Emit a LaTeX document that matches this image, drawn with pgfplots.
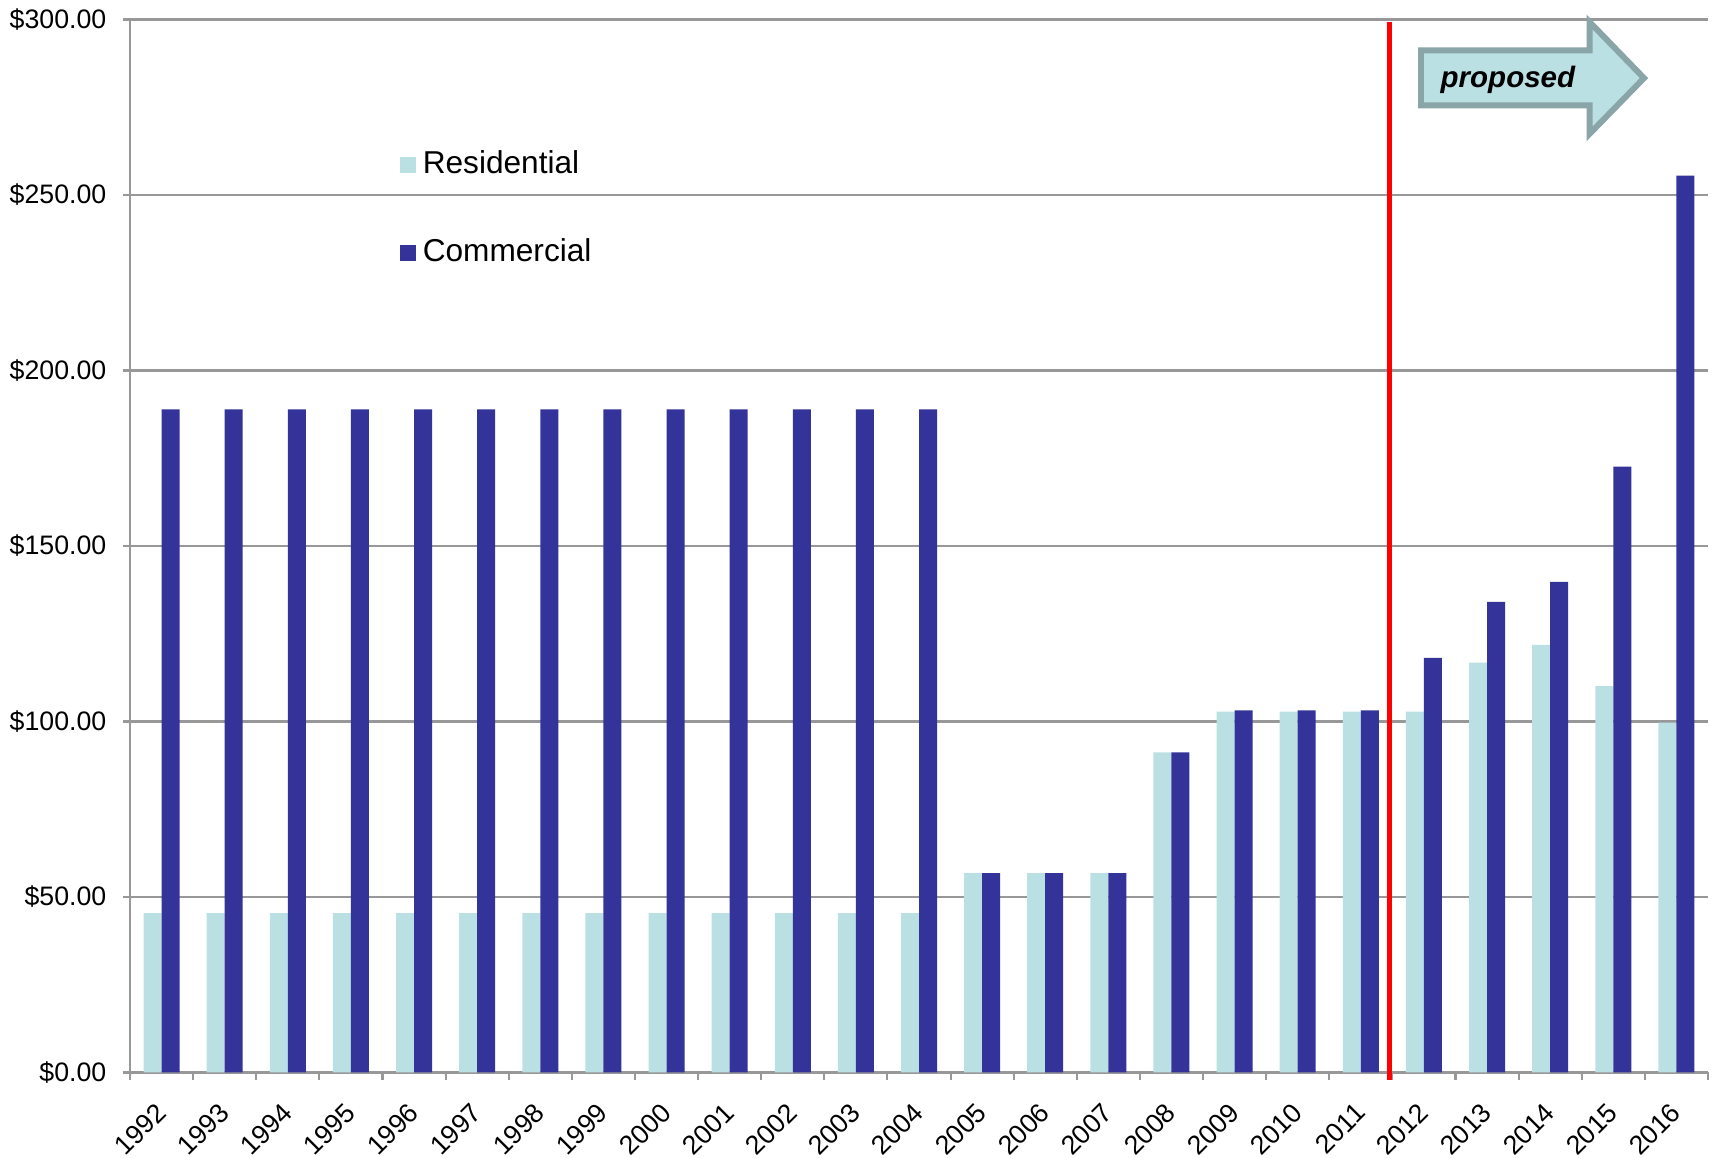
\documentclass[border=0pt]{standalone}
\usepackage{pgfplots}
\usepackage{pgfplotstable}
\pgfplotsset{compat=1.18}
\usepackage{fontspec}
\setmainfont{Liberation Sans}

\definecolor{resfill}{HTML}{BBE0E3}
\definecolor{comfill}{HTML}{333399}
\definecolor{axisgray}{HTML}{989898}
\definecolor{arrowfill}{HTML}{BBE0E3}
\definecolor{arrowline}{HTML}{8AA5A8}

% Annual charge per account; index 0 = 1992 ... 24 = 2016
\pgfplotstableread{
idx res com
0  45.4 188.9
1  45.4 188.9
2  45.4 188.9
3  45.4 188.9
4  45.4 188.9
5  45.4 188.9
6  45.4 188.9
7  45.4 188.9
8  45.4 188.9
9  45.4 188.9
10 45.4 188.9
11 45.4 188.9
12 45.4 188.9
13 56.8 56.8
14 56.8 56.8
15 56.8 56.8
16 91.2 91.2
17 102.8 103.2
18 102.8 103.2
19 102.8 103.2
20 102.8 118.1
21 116.8 134.1
22 121.8 139.8
23 110.1 172.6
24 99.7 255.5
}\rates

\begin{document}
\begin{tikzpicture}
\begin{axis}[
  scale only axis,
  width=15.78cm, height=10.53cm,
  xmin=-0.5, xmax=24.5, ymin=0, ymax=300,
  ybar=0pt, bar width=0.18cm,
  axis x line*=bottom, axis y line*=left,
  axis line style={draw=axisgray, line width=0.6pt, -},
  ymajorgrids,
  grid style={draw=axisgray, line width=0.6pt},
  ytick={0,50,...,300},
  xtick={0,...,24},
  xticklabels={1992,1993,1994,1995,1996,1997,1998,1999,2000,2001,2002,2003,2004,2005,2006,2007,2008,2009,2010,2011,2012,2013,2014,2015,2016},
  minor xtick={-0.5,0.5,...,24.5},
  tick align=outside,
  major tick length=0.07cm,
  minor tick length=0.08cm,
  major x tick style={draw=none},
  minor x tick style={draw=axisgray, line width=0.6pt},
  ytick style={draw=axisgray, line width=0.6pt},
  /pgf/number format/assume math mode=true,
  yticklabel={\$\pgfmathprintnumber[fixed,fixed zerofill,precision=2]{\tick}},
  yticklabel style={font=\fontsize{7.6}{9}\selectfont, anchor=east, inner sep=0pt, xshift=-0.16cm},
  xticklabel style={font=\fontsize{7.6}{9}\selectfont, inner sep=0pt, yshift=-0.28cm, rotate=45, anchor=east},
  legend style={at={(rel axis cs:0.1705,0.883)}, anchor=north west, draw=none, fill=none,
    inner sep=0pt, row sep=0.46cm, font=\fontsize{9}{10.8}\selectfont, cells={anchor=west}},
  legend image code/.code={\fill[#1,draw=none] (0cm,-0.08cm) rectangle (0.16cm,0.08cm);},
  clip=false,
]
\addplot[fill=resfill, draw=none] table[x=idx, y=res] {\rates};
\addlegendentry{Residential}
\addplot[fill=comfill, draw=none] table[x=idx, y=com] {\rates};
\addlegendentry{Commercial}

% divider between actual and proposed years
\draw[red, line width=1.5pt] (axis cs:19.45,299.3) -- (axis cs:19.45,-2.2);

% "proposed" arrow
\draw[draw=arrowline, fill=arrowfill, line width=1.7pt, line join=miter]
  (axis cs:19.953,291.2) -- (axis cs:22.623,291.2) -- (axis cs:22.623,299.3)
  -- (axis cs:23.486,283.3) -- (axis cs:22.623,267.4) -- (axis cs:22.623,275.5)
  -- (axis cs:19.953,275.5) -- cycle;
\node[font=\fontsize{8.4}{10}\selectfont\bfseries\itshape] at (axis cs:21.33,282.8) {proposed};

\coordinate (bl) at (rel axis cs:0,0);
\coordinate (tr) at (rel axis cs:1,1);
\end{axis}
\pgfresetboundingbox
\path[use as bounding box] ([shift={(-1.30cm,-0.855cm)}]bl) rectangle ([shift={(0.09cm,0.195cm)}]tr);
\end{tikzpicture}
\end{document}
